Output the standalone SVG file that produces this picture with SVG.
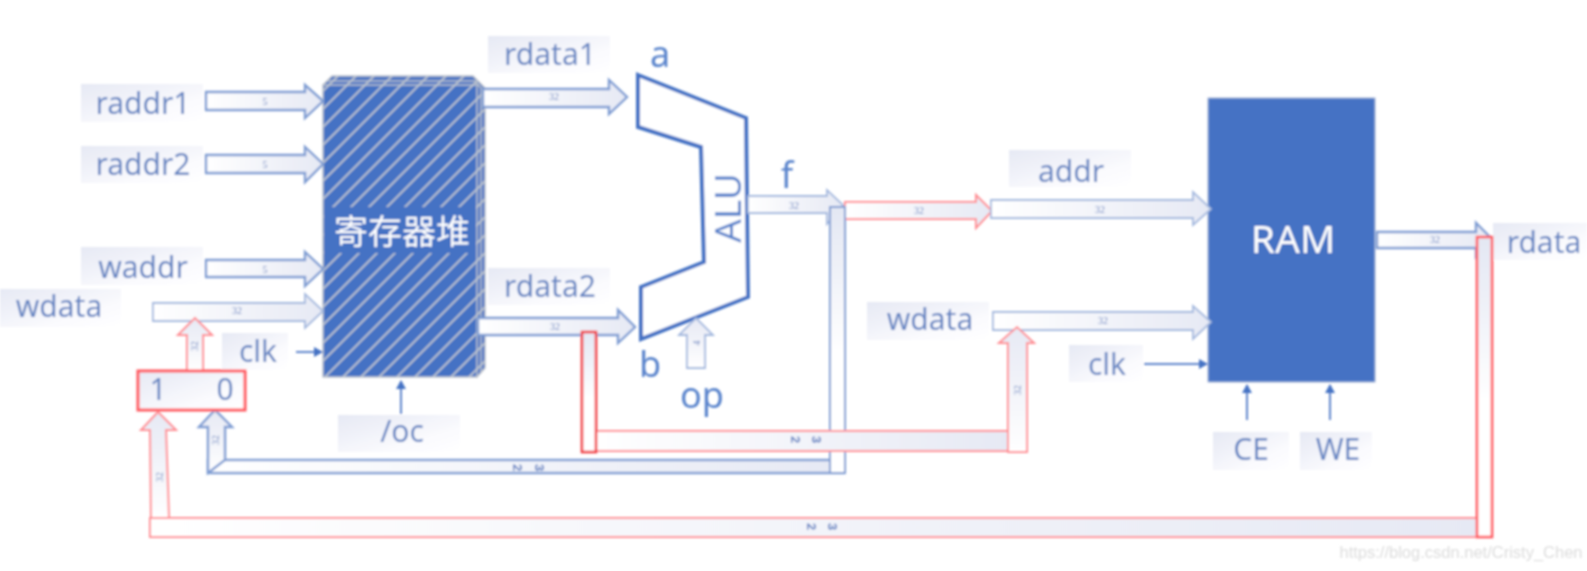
<svg xmlns="http://www.w3.org/2000/svg" width="1587" height="571" viewBox="0 0 1587 571">
<defs>
<linearGradient id="lab" x1="0" y1="0" x2="1" y2="1"><stop offset="0" stop-color="#e6e9f4"/><stop offset="0.7" stop-color="#fbfbfe"/><stop offset="1" stop-color="#fff"/></linearGradient>
<linearGradient id="rgt" x1="0" y1="0" x2="1" y2="0"><stop offset="0" stop-color="#fff"/><stop offset="1" stop-color="#e6e9f4"/></linearGradient>
<linearGradient id="dwn" x1="0" y1="0" x2="0" y2="1"><stop offset="0" stop-color="#e3e7f3"/><stop offset="0.55" stop-color="#fff"/><stop offset="1" stop-color="#fff"/></linearGradient>
<linearGradient id="up" x1="0" y1="1" x2="0" y2="0"><stop offset="0" stop-color="#fff"/><stop offset="1" stop-color="#e6e9f4"/></linearGradient>
<pattern id="hatch" patternUnits="userSpaceOnUse" width="18" height="18"><rect width="18" height="18" fill="#4472c4"/><path d="M-2,20 L20,-2 M-11,11 L11,-11 M7,29 L29,7" stroke="#c3c8d0" stroke-width="1.7"/></pattern>
<filter id="soft" x="0" y="0" width="100%" height="100%" filterUnits="userSpaceOnUse"><feGaussianBlur stdDeviation="0.9"/></filter>
<marker id="tip" markerUnits="userSpaceOnUse" markerWidth="10" markerHeight="10" refX="8" refY="5" orient="auto"><path d="M0,0 L9,5 L0,10 Z" fill="#4472c4"/></marker>
</defs>
<style>
text{font-family:"Noto Sans","Liberation Sans",sans-serif;fill:#6484c2;font-size:30px;text-anchor:middle}
.big{font-size:36px;fill:#5a84cc}
.wh{fill:#fff}
.s{font-size:10px;fill:#7089c2;font-family:"Liberation Serif",serif}
.z{font-size:13px;font-weight:bold;fill:#5a7cc0;text-anchor:start;font-family:"Liberation Sans",sans-serif}
.lab{fill:url(#lab)}
.b{fill:url(#rgt);stroke:#a3b8de;stroke-width:1.8}
.bs{fill:url(#rgt);stroke:#7f9dd3;stroke-width:2.4}
.r{fill:url(#rgt);stroke:#ff8f94;stroke-width:2}
.u{fill:url(#up)}
.ctl{stroke:#5f85cc;stroke-width:2;fill:none;marker-end:url(#tip)}
</style>
<rect width="1587" height="571" fill="#fff"/>
<g filter="url(#soft)">

<g id="regfile">
<polygon points="323,85 332,76 473,76 485,88 485,368 477,377" fill="url(#hatch)" stroke="#bfc4cc" stroke-width="1.5"/>
<polyline points="327,81 475,81 481,88 481,373" fill="none" stroke="#bfc4cc" stroke-width="1.5"/>
<rect x="323" y="85" width="154" height="292" fill="url(#hatch)" stroke="#bfc4cc" stroke-width="1.5"/>
<rect x="324" y="207" width="152" height="46" fill="#4472c4"/>
<text x="402" y="244" class="wh" style="font-family:'Noto Sans CJK SC',sans-serif;font-size:34px">寄存器堆</text>
</g>

<g id="alu">
<polygon points="638,75 746,118 748,297 641,339 641,287 704,262 701,147 638,127" fill="#fff" stroke="#4472c4" stroke-width="4"/>
<text transform="translate(741,208) rotate(-90)" style="font-size:37px;fill:#5a84cc">ALU</text>
<text x="660" y="67" class="big">a</text>
<text x="650" y="377" class="big">b</text>
<text x="787" y="188" class="big">f</text>
<text x="702" y="408" class="big">op</text>
</g>

<g id="ram">
<rect x="1208" y="98" width="167" height="284" fill="#4472c4" stroke="#a9b8d6" stroke-width="1"/>
<text x="1293" y="253" class="wh" style="font-size:39px">RAM</text>
</g>

<g id="labels">
<g id="l-raddr1"><rect x="81" y="84" width="122" height="38" class="lab"/><text x="143" y="114">raddr1</text></g>
<g id="l-raddr2"><rect x="81" y="146" width="122" height="37" class="lab"/><text x="143" y="175">raddr2</text></g>
<g id="l-waddr"><rect x="81" y="247" width="122" height="38" class="lab"/><text x="143" y="278">waddr</text></g>
<g id="l-wdata"><rect x="0" y="289" width="121" height="38" class="lab"/><text x="59" y="317">wdata</text></g>
<g id="l-clk"><rect x="222" y="333" width="66" height="37" class="lab"/><text x="258" y="362">clk</text></g>
<g id="l-oc"><rect x="338" y="415" width="122" height="37" class="lab"/><text x="402" y="442">/oc</text></g>
<g id="l-rdata1"><rect x="488" y="36" width="122" height="37" class="lab"/><text x="550" y="65">rdata1</text></g>
<g id="l-rdata2"><rect x="488" y="268" width="122" height="37" class="lab"/><text x="550" y="297">rdata2</text></g>
<g id="l-addr"><rect x="1009" y="150" width="122" height="37" class="lab"/><text x="1071" y="182">addr</text></g>
<g id="l-wdata2"><rect x="867" y="302" width="122" height="38" class="lab"/><text x="930" y="330">wdata</text></g>
<g id="l-clk2"><rect x="1069" y="345" width="74" height="37" class="lab"/><text x="1107" y="375">clk</text></g>
<g id="l-ce"><rect x="1213" y="432" width="76" height="38" class="lab"/><text x="1251" y="460">CE</text></g>
<g id="l-we"><rect x="1300" y="432" width="72" height="38" class="lab"/><text x="1338" y="460">WE</text></g>
<g id="l-rdata3"><rect x="1493" y="223" width="94" height="37" class="lab"/><text x="1544" y="253">rdata</text></g>
</g>

<g id="connectors">
<polygon class="bs" points="206,92 305,92 305,85 323,101 305,118 305,110 206,110"/>
<polygon class="bs" points="206,155 305,155 305,147 323,164 305,182 305,173 206,173"/>
<polygon class="bs" points="206,260 305,260 305,252 323,269 305,286 305,277 206,277"/>
<polygon class="b" points="153,303 305,303 305,294 323,311 305,328 305,321 153,321"/>
<polygon class="bs" points="483,89 609,89 609,80 627,97 609,114 609,107 483,107"/>
<polygon class="bs" points="478,318 618,318 618,310 635,327 618,343 618,335 478,335"/>
<polygon class="b" points="748,196 827,196 827,190 843,205 827,224 827,213 748,213"/>
<polygon class="r" points="845,202 976,202 976,195 992,211 976,228 976,219 845,219"/>
<polygon class="b" points="991,200 1193,200 1193,192 1211,209 1193,225 1193,218 991,218"/>
<polygon class="b" points="993,312 1193,312 1193,306 1211,322 1193,339 1193,330 993,330"/>
<polygon class="bs" points="1377,232 1476,232 1476,223 1490,237 1476,256 1476,248 1377,248"/>
<polygon class="b" style="fill:url(#up)" points="687,368 687,335 679,335 696,318 713,335 705,335 705,368"/>

<line class="ctl" x1="296" y1="352" x2="322" y2="352"/>
<line class="ctl" x1="401" y1="414" x2="401" y2="381"/>
<line class="ctl" x1="1144" y1="364" x2="1207" y2="364"/>
<line class="ctl" x1="1247" y1="420" x2="1247" y2="385"/>
<line class="ctl" x1="1330" y1="420" x2="1330" y2="385"/>

<rect x="208" y="460" width="636" height="13" class="bs"/>
<rect x="830" y="207" width="15" height="266" fill="url(#dwn)" stroke="#7f9dd3" stroke-width="2"/>
<polygon class="bs" style="fill:url(#up)" points="208,473 208,427 199,427 215,410 232,427 225,427 225,460"/>

<polygon style="fill:url(#up);stroke:#ff8f94;stroke-width:2" points="187,371 187,335 178,335 195,318 212,335 203,335 203,371"/>
<polygon style="fill:url(#up);stroke:#ff8f94;stroke-width:2" points="151,518 150,430 141,430 158,412 176,430 166,430 169,518"/>
<rect x="150" y="518" width="1327" height="19" class="r"/>
<rect x="1477" y="237" width="15" height="300" fill="url(#dwn)" stroke="#ff5a60" stroke-width="2.6"/>

<rect x="596" y="431" width="412" height="20" class="r"/>
<rect x="582" y="332" width="14" height="120" fill="url(#dwn)" stroke="#f03a40" stroke-width="2.6"/>
<polygon style="fill:url(#up);stroke:#ff8f94;stroke-width:2" points="1008,452 1008,343 999,343 1017,327 1034,343 1027,343 1027,452"/>

<text class="s" x="265" y="105">5</text>
<text class="s" x="265" y="168">5</text>
<text class="s" x="265" y="273">5</text>
<text class="s" x="237" y="314">32</text>
<text class="s" x="554" y="100">32</text>
<text class="s" x="555" y="330">32</text>
<text class="s" x="794" y="209">32</text>
<text class="s" x="919" y="214">32</text>
<text class="s" x="1100" y="213">32</text>
<text class="s" x="1103" y="324">32</text>
<text class="s" x="1435" y="243">32</text>
<text class="s" transform="translate(198,346) rotate(-90)">32</text>
<text class="s" transform="translate(219,440) rotate(-90)">32</text>
<text class="s" transform="translate(163,477) rotate(-90)">32</text>
<text class="s" transform="translate(1021,390) rotate(-90)">32</text>
<text class="s" transform="translate(700,343) rotate(-90)">4</text>
<text class="z" x="812 791" y="436" rotate="90">32</text>
<text class="z" x="535 513" y="464" rotate="90">32</text>
<text class="z" x="828 807" y="523" rotate="90">32</text>
</g>

<g id="mux">
<rect x="138" y="371" width="107" height="39" class="lab" stroke="#ff5a60" stroke-width="3"/>
<text x="158" y="400">1</text>
<text x="225" y="400">0</text>
</g>

<text x="1461" y="558" style="font-family:'Liberation Sans',sans-serif;font-size:16.5px;fill:#dcdcdc">https://blog.csdn.net/Cristy_Chen</text>
</g>
</svg>
